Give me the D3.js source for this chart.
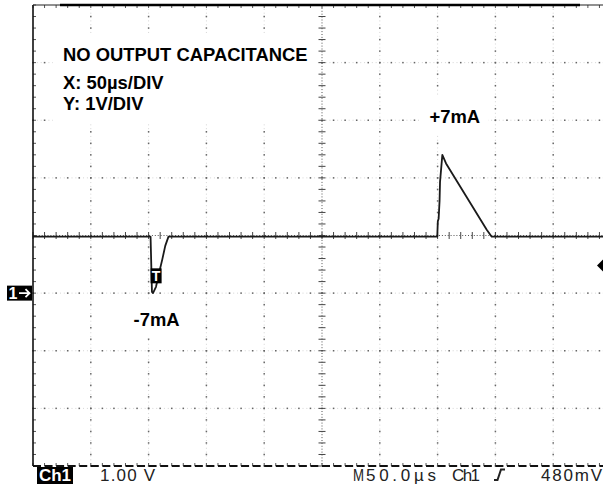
<!DOCTYPE html>
<html>
<head>
<meta charset="utf-8">
<script src="https://cdn.jsdelivr.net/npm/d3@7"></script>
<style>
  body { margin: 0; background: #fff; }
</style>
</head>
<body>
<div id="scope"></div>
<script>
// trace: time in µs (50µs/div), volts (1V/div) relative to ch1 ground
const traceTime = [0, 101.7, 102.9, 103.8, 106.4, 109.3, 111.9, 114.4, 117.2,
  349.7, 350.2, 350.9, 351.7, 352.1, 354.1, 357.3, 392.5, 396.8, 500];
const traceVolts = [0.98, 0.98, 0.02, 0.0, 0.11, 0.37, 0.59, 0.82, 0.98,
  0.98, 1.25, 1.29, 1.6, 1.93, 2.40, 2.25, 1.10, 0.98, 0.98];

// annotations placed in data units
const labelText = ['NO OUTPUT CAPACITANCE', 'X: 50µs/DIV', 'Y: 1V/DIV', '+7mA', '-7mA'];
const labelTime = [26, 26, 26, 343, 87];
const labelVolts = [4.02, 3.55, 3.17, 2.96, -0.57];

const trigTime = 106.5;
const trigLevel = 0.48;

const width = 603;
const height = 486;

const x = d3.scaleLinear().domain([0, 500]).range([33, 611]);
const y = d3.scaleLinear().domain([-3, 5]).range([466, 5]);

const svg = d3.select('#scope')
  .append('svg')
  .attr('width', width)
  .attr('height', height)
  .attr('viewBox', [0, 0, width, height])
  .style('font-family', 'Liberation Sans, Arial, sans-serif');

svg.append('rect').attr('width', width).attr('height', height).attr('fill', '#fff');

const grid = svg.append('g');
const minorX = d3.range(0, 500.01, 10);
const minorY = d3.range(-3, 5.001, 0.2);
const majorX = d3.range(50, 500, 50).filter(d => d !== 250);
const majorY = d3.range(-2, 5, 1).filter(d => d !== 1);

// faint dotted major lines
grid.selectAll('.vx')
  .data(majorX)
  .enter()
  .append('line')
  .attr('x1', d => x(d)).attr('x2', d => x(d))
  .attr('y1', y(5)).attr('y2', y(-3))
  .attr('stroke', '#d4d4d4')
  .attr('stroke-dasharray', '1,2.85');
grid.selectAll('.hy')
  .data(majorY)
  .enter()
  .append('line')
  .attr('y1', d => y(d)).attr('y2', d => y(d))
  .attr('x1', x(0)).attr('x2', width)
  .attr('stroke', '#d4d4d4')
  .attr('stroke-dasharray', '1,2.85');

// darker dots at every minor division along the major lines
majorX.forEach(t => {
  grid.selectAll(null)
    .data(minorY)
    .enter()
    .append('rect')
    .attr('x', x(t) - 0.75).attr('y', d => y(d) - 0.75)
    .attr('width', 1.5).attr('height', 1.5)
    .attr('fill', '#666');
});
majorY.forEach(v => {
  grid.selectAll(null)
    .data(minorX)
    .enter()
    .append('rect')
    .attr('x', d => x(d) - 0.75).attr('y', y(v) - 0.75)
    .attr('width', 1.5).attr('height', 1.5)
    .attr('fill', '#666');
});

// centre cross with ticks
grid.append('line')
  .attr('x1', x(250)).attr('x2', x(250)).attr('y1', y(5)).attr('y2', y(-3))
  .attr('stroke', '#555').attr('stroke-dasharray', '1,1.9');
grid.append('line')
  .attr('x1', x(0)).attr('x2', width).attr('y1', y(1)).attr('y2', y(1))
  .attr('stroke', '#555').attr('stroke-dasharray', '1,1.9');
grid.selectAll('.cty')
  .data(minorY)
  .enter()
  .append('line')
  .attr('x1', x(250) - 3.5).attr('x2', x(250) + 3.5)
  .attr('y1', d => y(d)).attr('y2', d => y(d))
  .attr('stroke', '#444');
grid.selectAll('.ctx')
  .data(minorX)
  .enter()
  .append('line')
  .attr('x1', d => x(d)).attr('x2', d => x(d))
  .attr('y1', y(1) - 3.5).attr('y2', y(1) + 3.5)
  .attr('stroke', '#444');

// edge ticks
grid.selectAll('.lt')
  .data(minorY)
  .enter()
  .append('line')
  .attr('x1', x(0)).attr('x2', x(0) + 3)
  .attr('y1', d => y(d)).attr('y2', d => y(d))
  .attr('stroke', '#555');
grid.selectAll('.tt')
  .data(minorX)
  .enter()
  .append('line')
  .attr('x1', d => x(d)).attr('x2', d => x(d))
  .attr('y1', y(5)).attr('y2', y(5) + 3)
  .attr('stroke', '#555');
grid.selectAll('.bt')
  .data(minorX)
  .enter()
  .append('line')
  .attr('x1', d => x(d)).attr('x2', d => x(d))
  .attr('y1', y(-3)).attr('y2', y(-3) - 3)
  .attr('stroke', '#555');

// annotation labels on white patches
const labels = svg.append('g');
const boxes = labels.append('g');
const texts = labels.selectAll('text')
  .data(labelText)
  .enter()
  .append('text')
  .attr('x', (d, i) => x(labelTime[i]))
  .attr('y', (d, i) => y(labelVolts[i]))
  .attr('font-size', 18.4)
  .attr('font-weight', 'bold')
  .attr('fill', '#000')
  .text(d => d);

// one patch for the three-line block, one for each current label
const groups = [[0, 1, 2], [3], [4]];
groups.forEach(idx => {
  const bb = idx.map(i => texts.nodes()[i].getBBox());
  const x0 = d3.min(bb, b => b.x) - 10;
  const y0 = d3.min(bb, b => b.y) - 10;
  const x1 = d3.max(bb, b => b.x + b.width) + 8;
  const y1 = d3.max(bb, b => b.y + b.height) + 8;
  boxes.append('rect')
    .attr('x', x0).attr('y', y0)
    .attr('width', x1 - x0).attr('height', y1 - y0)
    .attr('fill', '#fff');
});

// trace
const line = d3.line()
  .x((d, i) => x(traceTime[i]))
  .y(d => y(d));
svg.append('path')
  .datum(traceVolts)
  .attr('d', line)
  .attr('fill', 'none')
  .attr('stroke', '#1a1a1a')
  .attr('stroke-width', 1.8)
  .attr('stroke-linejoin', 'round');

// borders
svg.append('line')
  .attr('x1', x(0)).attr('x2', x(0)).attr('y1', y(5)).attr('y2', y(-3))
  .attr('stroke', '#111').attr('stroke-width', 1.6);
svg.append('line')
  .attr('x1', x(0)).attr('x2', width).attr('y1', y(5)).attr('y2', y(5))
  .attr('stroke', '#222').attr('stroke-width', 1.2);
svg.append('line')
  .attr('x1', 60).attr('x2', 580).attr('y1', y(5)).attr('y2', y(5))
  .attr('stroke', '#000').attr('stroke-width', 2.6);
svg.append('line')
  .attr('x1', x(0)).attr('x2', width).attr('y1', y(-3)).attr('y2', y(-3))
  .attr('stroke', '#111').attr('stroke-width', 1.8)
  .attr('stroke-dasharray', '8,3.56');

// trigger point marker
const tg = svg.append('g').attr('transform', `translate(${x(trigTime)},${y(0.3)})`);
tg.append('rect').attr('x', -5.5).attr('y', -7.5).attr('width', 11).attr('height', 15).attr('fill', '#000');
tg.append('text').attr('x', 0).attr('y', 5.5).attr('text-anchor', 'middle')
  .attr('font-size', 14).attr('font-weight', 'bold').attr('fill', '#fff').text('T');

// trigger level marker on the right edge
const ty = y(trigLevel);
svg.append('polygon')
  .attr('points', [[597, ty], [604, ty - 7], [611, ty], [604, ty + 7]].join(' '))
  .attr('fill', '#000');

// channel 1 ground marker
const gy = y(0);
svg.append('rect').attr('x', 7).attr('y', gy - 7.5).attr('width', 25).attr('height', 15).attr('fill', '#000');
svg.append('text').attr('x', 8.5).attr('y', gy + 6)
  .attr('font-size', 16).attr('font-weight', 'bold').attr('fill', '#fff').text('1');
svg.append('path')
  .attr('d', `M19,${gy} H29.5 M25.5,${gy - 4} L29.5,${gy} L25.5,${gy + 4}`)
  .attr('stroke', '#fff').attr('stroke-width', 1.8).attr('fill', 'none');

// readout line under the graticule
const ro = svg.append('g').attr('font-size', 17).attr('fill', '#222');
ro.append('rect').attr('x', 37).attr('y', 467).attr('width', 36).attr('height', 17).attr('fill', '#000');
ro.append('text').attr('x', 39).attr('y', 481).attr('font-weight', 'bold').attr('fill', '#fff')
  .attr('textLength', 32).text('Ch1');
ro.append('text').attr('x', 100).attr('y', 481).attr('textLength', 55).text('1.00 V');
ro.append('text').attr('x', 353).attr('y', 481).attr('textLength', 11).attr('lengthAdjust', 'spacingAndGlyphs').text('M');
ro.append('text').attr('x', 366).attr('y', 481).attr('textLength', 70).text('50.0µs');
ro.append('text').attr('x', 452).attr('y', 481).attr('textLength', 28).text('Ch1');
ro.append('path')
  .attr('d', 'M494,480 H497.5 L501,469.5 H505')
  .attr('stroke', '#222').attr('stroke-width', 2).attr('fill', 'none');
ro.append('text').attr('x', 541).attr('y', 481).attr('textLength', 61).text('480mV');
</script>
</body>
</html>
